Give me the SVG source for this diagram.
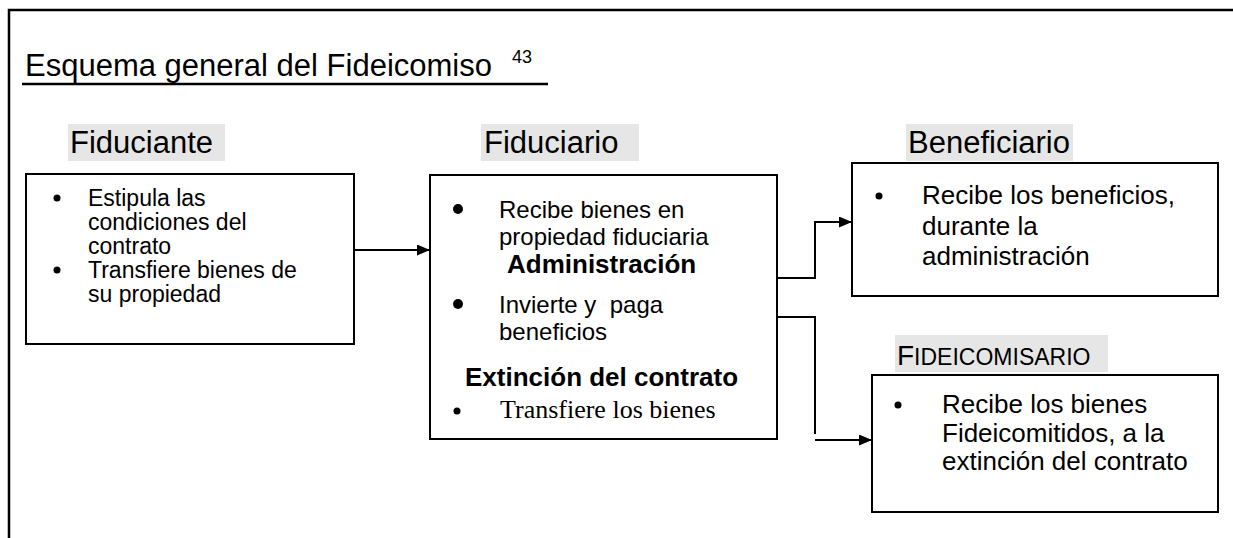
<svg xmlns="http://www.w3.org/2000/svg" width="1233" height="538" viewBox="0 0 1233 538">
  <defs>
    <marker id="arrow" viewBox="0 0 13 11" refX="13" refY="5.5" markerWidth="13" markerHeight="11" markerUnits="userSpaceOnUse" orient="auto">
      <path d="M0,0 L13,5.5 L0,11 Z" fill="#000"/>
    </marker>
  </defs>
  <style>
    .frame { fill: none; stroke: #000; stroke-width: 2.5; }
    .box { fill: #fff; stroke: #000; stroke-width: 2; }
    .lbl-bg { fill: #e6e6e6; }
    .lbl { font-family: "Liberation Sans", Arial, sans-serif; font-size: 31px; fill: #000; }
    .title { font-family: "Liberation Sans", Arial, sans-serif; font-size: 31px; fill: #000; }
    .t { font-family: "Liberation Sans", Arial, sans-serif; fill: #000; }
    .b { font-family: "Liberation Sans", Arial, sans-serif; font-weight: bold; font-size: 26px; fill: #000; }
    .serif { font-family: "Liberation Serif", "Times New Roman", serif; font-size: 26px; fill: #000; }
    .conn { fill: none; stroke: #000; stroke-width: 2; }
  </style>
  <rect x="0" y="0" width="1233" height="538" fill="#fff"/>
  <path class="frame" d="M9,538 V10 H1233"/>

  <g id="title">
    <text class="title" x="25" y="76">Esquema general del Fideicomiso</text>
    <text class="t" x="512" y="63" font-size="18">43</text>
    <line x1="22" y1="84" x2="548" y2="84" stroke="#000" stroke-width="2.5"/>
  </g>

  <g id="fiduciante">
    <rect class="lbl-bg" x="68" y="124" width="157" height="37"/>
    <text class="lbl" x="70" y="153">Fiduciante</text>
    <rect class="box" x="26" y="174" width="328" height="170"/>
    <circle cx="57" cy="198" r="3.5"/>
    <circle cx="57" cy="270" r="3.5"/>
    <text class="t" font-size="23">
      <tspan x="88" y="206">Estipula las</tspan>
      <tspan x="88" y="230">condiciones del</tspan>
      <tspan x="88" y="254">contrato</tspan>
      <tspan x="88" y="278">Transfiere bienes de</tspan>
      <tspan x="88" y="302">su propiedad</tspan>
    </text>
  </g>

  <g id="fiduciario">
    <rect class="lbl-bg" x="481" y="124" width="158" height="37"/>
    <text class="lbl" x="484" y="153">Fiduciario</text>
    <rect class="box" x="430" y="175" width="347" height="264"/>
    <circle cx="458" cy="209" r="5"/>
    <text class="t" font-size="24">
      <tspan x="499" y="218">Recibe bienes en</tspan>
      <tspan x="499" y="245">propiedad fiduciaria</tspan>
    </text>
    <text class="b" x="507" y="273">Administración</text>
    <circle cx="458" cy="304" r="5"/>
    <text class="t" font-size="24">
      <tspan x="499" y="313" xml:space="preserve">Invierte y  paga</tspan>
      <tspan x="499" y="340">beneficios</tspan>
    </text>
    <text class="b" x="465" y="386">Extinción del contrato</text>
    <circle cx="457" cy="411" r="3.5"/>
    <text class="serif" x="500" y="418">Transfiere los bienes</text>
  </g>

  <g id="beneficiario">
    <rect class="lbl-bg" x="906" y="124" width="167" height="37"/>
    <text class="lbl" x="908" y="153">Beneficiario</text>
    <rect class="box" x="852" y="163" width="366" height="133"/>
    <circle cx="879" cy="196" r="3.5"/>
    <text class="t" font-size="26">
      <tspan x="922" y="204">Recibe los beneficios,</tspan>
      <tspan x="922" y="235">durante la</tspan>
      <tspan x="922" y="265">administración</tspan>
    </text>
  </g>

  <g id="fideicomisario">
    <rect class="lbl-bg" x="895" y="335" width="213" height="37"/>
    <text class="t" x="897" y="365"><tspan font-size="28">F</tspan><tspan font-size="23">IDEICOMISARIO</tspan></text>
    <rect class="box" x="872" y="375" width="346" height="137"/>
    <circle cx="898" cy="405" r="3.5"/>
    <text class="t" font-size="26">
      <tspan x="942" y="413">Recibe los bienes</tspan>
      <tspan x="942" y="442">Fideicomitidos, a la</tspan>
      <tspan x="942" y="470">extinción del contrato</tspan>
    </text>
  </g>

  <g id="connectors">
    <path class="conn" d="M354,250 H430" marker-end="url(#arrow)"/>
    <path class="conn" d="M777,278 H815 V222 H852" marker-end="url(#arrow)"/>
    <path class="conn" d="M777,317 H815 V434"/>
    <path class="conn" d="M815,440 H872" marker-end="url(#arrow)"/>
  </g>
</svg>
